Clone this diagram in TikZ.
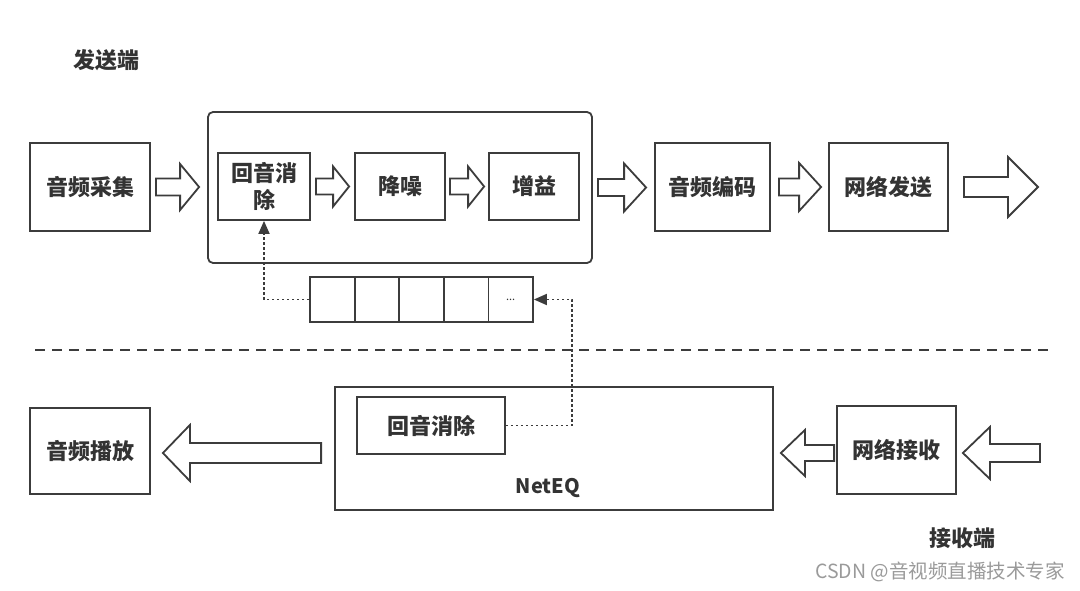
\documentclass[tikz,border=0pt]{standalone}
\usepackage{fontspec}
\setmainfont{Noto Sans CJK SC}
\usetikzlibrary{calc,arrows.meta}
\definecolor{ln}{HTML}{3C3C3C}
\definecolor{tx}{HTML}{333333}
\definecolor{wm}{HTML}{9A9A9A}
\tikzset{
  boxst/.style={draw=ln,line width=1.8pt,inner sep=0pt,align=center,text=tx,font=\fontsize{22}{27}\selectfont\bfseries},
  cellst/.style={draw=ln,line width=1.8pt,inner sep=0pt,minimum width=44.6pt,minimum height=45pt},
  harrowst/.style={draw=ln,line width=1.8pt,fill=white,line join=miter},
  dotst/.style={draw=ln,line width=1.8pt,dash pattern=on 2.5pt off 2.5pt},
  lblst/.style={text=tx,font=\fontsize{22}{26}\selectfont\bfseries,inner sep=0pt}
}
% #1 start, #2 tip, #3 shaft half, #4 head half, #5 signed head length
\newcommand{\harr}[5]{%
  \draw[harrowst] let \p1=(#1), \p2=(#2) in
    ({\x1},{\y1+#3}) -- ({\x2-(#5)},{\y1+#3}) -- ({\x2-(#5)},{\y1+#4}) -- ({\x2},{\y1})
    -- ({\x2-(#5)},{\y1-#4}) -- ({\x2-(#5)},{\y1-#3}) -- ({\x1},{\y1-#3}) -- cycle;}
\begin{document}
\begin{tikzpicture}[x=1pt,y=-1pt]
\useasboundingbox (0,0) rectangle (1080,591);
% labels
\node[lblst] (sendlbl) at (106,60) {发送端};
\node[lblst] (recvlbl) at (962,538) {接收端};
\node[text=wm,font=\fontsize{19.5}{23}\selectfont,inner sep=0pt] (wmk) at (940,572) {CSDN @音视频直播技术专家};
% sender side
\node[boxst,minimum width=120pt,minimum height=88pt] (cap) at (90,187) {音频采集};
\node[draw=ln,line width=1.8pt,rounded corners=5pt,minimum width=384pt,minimum height=151pt,inner sep=0pt] (proc) at (400,187.5) {};
\node[boxst,minimum width=92pt,minimum height=67pt] (aec) at (264,186.5) {回音消\\除};
\node[boxst,minimum width=90pt,minimum height=67pt] (ns) at (400,186.5) {降噪};
\node[boxst,minimum width=90pt,minimum height=67pt] (agc) at (534,186.5) {增益};
\node[boxst,minimum width=115pt,minimum height=88pt] (enc) at (712.5,187) {音频编码};
\node[boxst,minimum width=119pt,minimum height=88pt] (send) at (888.5,187) {网络发送};
\coordinate (out) at (1038,187);
% buffer
\node[cellst] (c1) at (332.3,299.5) {};
\node[cellst] (c2) at (376.9,299.5) {};
\node[cellst] (c3) at (421.5,299.5) {};
\node[cellst] (c4) at (466.1,299.5) {};
\node[cellst,text=tx,font=\fontsize{11}{12}\selectfont] (c5) at (510.7,299.5) {...};
% divider
\coordinate (dl) at (35,350);
\coordinate (dr) at (1048,350);
\draw[ln,line width=1.8pt,dash pattern=on 10pt off 7pt] (dl) -- (dr);
% receiver side
\node[boxst,minimum width=120pt,minimum height=86pt] (play) at (90,451) {音频播放};
\node[draw=ln,line width=1.8pt,minimum width=438pt,minimum height=123pt,inner sep=0pt] (neteq) at (554,448.5) {};
\node[lblst,font=\fontsize{20}{24}\selectfont\bfseries] (neteqlbl) at (548,488) {NetEQ};
\node[boxst,minimum width=148pt,minimum height=57pt] (aec2) at (431,425.5) {回音消除};
\node[boxst,minimum width=119pt,minimum height=88pt] (recv) at (896.5,450) {网络接收};
\coordinate (in) at (1040,453);
% hollow block arrows
\harr{$(cap.east)+(5,0)$}{$(proc.west)+(-8,0)$}{8.5pt}{23pt}{19pt}
\harr{$(aec.east)+(5,0)$}{$(ns.west)+(-5,0)$}{8pt}{20pt}{16pt}
\harr{$(ns.east)+(4,0)$}{$(agc.west)+(-4,0)$}{8pt}{20pt}{16pt}
\harr{$(proc.east)+(5,0)$}{$(enc.west)+(-8,0)$}{8.5pt}{24pt}{22pt}
\harr{$(enc.east)+(8,0)$}{$(send.west)+(-7,0)$}{8.5pt}{24pt}{22pt}
\harr{$(send.east)+(15,0)$}{out}{10pt}{30pt}{30pt}
\harr{in}{$(recv.east)+(6,0)$}{9pt}{26pt}{-27pt}
\harr{$(recv.west)+(-2,3)$}{$(neteq.east)+(7,0)$}{8pt}{23pt}{-24pt}
\harr{$(neteq.west |- play.east)+(-13,2)$}{$(play.east)+(12,0)$}{10pt}{28pt}{-27pt}
% dotted feedback
\coordinate (bend) at (572,299.5);
\draw[dotst,-{Triangle[length=13pt,width=11pt]}] (c1.west) -| (aec.south);
\draw[dotst,-{Triangle[length=13pt,width=11pt]}] (aec2.east) -| (bend) -- (c5.east);
\end{tikzpicture}
\end{document}
